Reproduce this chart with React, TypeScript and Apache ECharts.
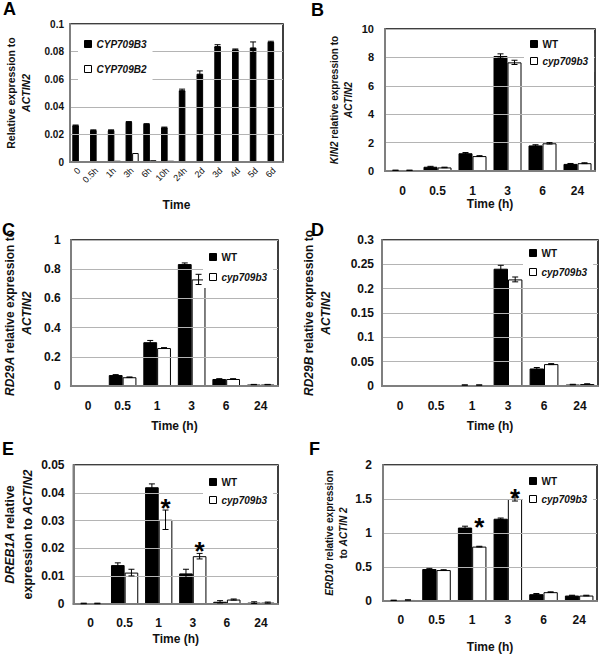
import React, { useEffect, useRef } from 'react';
import * as echarts from 'echarts';

// ---------- data ----------
const timeCatsA = ['0', '0.5h', '1h', '3h', '6h', '10h', '24h', '2d', '3d', '4d', '5d', '6d'];
const cyp709b3A = [0.0265, 0.023, 0.023, 0.029, 0.0275, 0.025, 0.052, 0.064, 0.084, 0.0815, 0.083, 0.087];
const cyp709b3AErr = [0.0003, 0.0003, 0.0003, 0.0003, 0.0003, 0.0003, 0.0008, 0.002, 0.001, 0.0004, 0.004, 0.0005];
const cyp709b2A = [0.0003, 0.0003, 0.0009, 0.0065, 0.0013, 0.0009, 0.0003, 0.0003, 0.0002, 0.0002, 0.0002, 0.0002];
const cyp709b2AErr = [0, 0, 0, 0, 0, 0, 0, 0, 0, 0, 0, 0];

const hourCats = ['0', '0.5', '1', '3', '6', '24'];

const kin2WT = [0.05, 0.3, 1.25, 8.1, 1.8, 0.5];
const kin2WTErr = [0.01, 0.03, 0.05, 0.15, 0.05, 0.03];
const kin2Mut = [0.05, 0.25, 1.05, 7.65, 1.95, 0.55];
const kin2MutErr = [0.01, 0.02, 0.03, 0.15, 0.05, 0.03];

const rd29aWT = [0.002, 0.075, 0.3, 0.835, 0.048, 0.01];
const rd29aWTErr = [0, 0.003, 0.012, 0.008, 0.002, 0.001];
const rd29aMut = [0.002, 0.06, 0.26, 0.73, 0.048, 0.01];
const rd29aMutErr = [0, 0.002, 0.003, 0.035, 0.002, 0.001];

const rd29bWT = [0.0005, 0.0005, 0.002, 0.241, 0.036, 0.003];
const rd29bWTErr = [0, 0, 0.0003, 0.007, 0.002, 0.0005];
const rd29bMut = [0.0005, 0.0005, 0.002, 0.219, 0.045, 0.004];
const rd29bMutErr = [0, 0, 0.0003, 0.005, 0.001, 0.0005];

const dreb1aWT = [0.0002, 0.014, 0.042, 0.011, 0.0008, 0.0005];
const dreb1aWTErr = [0.0001, 0.0008, 0.0012, 0.0015, 0.0004, 0.0003];
const dreb1aMut = [0.0002, 0.0113, 0.0303, 0.0172, 0.0016, 0.0005];
const dreb1aMutErr = [0.0001, 0.0012, 0.0035, 0.001, 0.0002, 0.0002];
const dreb1aStars = [[2, 0.0367], [3, 0.0212]];

const erd10WT = [0.01, 0.47, 1.08, 1.21, 0.1, 0.08];
const erd10WTErr = [0.002, 0.01, 0.02, 0.01, 0.01, 0.005];
const erd10Mut = [0.015, 0.455, 0.8, 1.5, 0.13, 0.08];
const erd10MutErr = [0.002, 0.005, 0.005, 0.03, 0.005, 0.005];
const erd10Stars = [[2, 1.18], [3, 1.61]];

const yTicksA = { min: 0, max: 0.1, interval: 0.02 };
const yTicksB = { min: 0, max: 10, interval: 2 };
const yTicksC = { min: 0, max: 1, interval: 0.2 };
const yTicksD = { min: 0, max: 0.3, interval: 0.05 };
const yTicksE = { min: 0, max: 0.05, interval: 0.01 };
const yTicksF = { min: 0, max: 2, interval: 0.5 };

const FONT = '"Liberation Sans", Arial, Helvetica, sans-serif';

type Panel = {
  letter: string;
  letterPos: [number, number];
  grid: { left: number; top: number; width: number; height: number };
  cats: string[];
  names: [string, string];
  nameItalic: [boolean, boolean];
  v1: number[]; e1: number[]; v2: number[]; e2: number[];
  ticks: { min: number; max: number; interval: number };
  yName: string; yNameSize: number; yNameGap: number;
  yLabelMargin: number; yLabelSize: number;
  xName: string; xNameGap: number; xLabelMargin: number; xLabelSize: number; xRotate: number;
  xLabelBold: boolean;
  bw: number;
  legend: { left: number; top: number; gap: number };
  stars?: number[][];
};

const panels: Panel[] = [
  {
    letter: 'A', letterPos: [3, 0],
    grid: { left: 70, top: 24, width: 213, height: 138 },
    cats: timeCatsA, names: ['CYP709B3', 'CYP709B2'], nameItalic: [true, true],
    v1: cyp709b3A, e1: cyp709b3AErr, v2: cyp709b2A, e2: cyp709b2AErr,
    ticks: yTicksA,
    yName: 'Relative expression to\n{i|ACTIN2}', yNameSize: 10.5, yNameGap: 36,
    yLabelMargin: 6, yLabelSize: 10,
    xName: 'Time', xNameGap: 37, xLabelMargin: 7, xLabelSize: 9, xRotate: 45, xLabelBold: false,
    bw: 0.37,
    legend: { left: 78, top: 33, gap: 13 },
  },
  {
    letter: 'B', letterPos: [311, 1],
    grid: { left: 385, top: 29, width: 210, height: 142 },
    cats: hourCats, names: ['WT', 'cyp709b3'], nameItalic: [false, true],
    v1: kin2WT, e1: kin2WTErr, v2: kin2Mut, e2: kin2MutErr,
    ticks: yTicksB,
    yName: '{i|KIN2} relative expression to\n{i|ACTIN2}', yNameSize: 10, yNameGap: 29,
    yLabelMargin: 11, yLabelSize: 11,
    xName: 'Time (h)', xNameGap: 25, xLabelMargin: 14, xLabelSize: 12, xRotate: 0, xLabelBold: true,
    bw: 0.4,
    legend: { left: 524, top: 33, gap: 5 },
  },
  {
    letter: 'C', letterPos: [2, 221],
    grid: { left: 70, top: 240, width: 208, height: 146 },
    cats: hourCats, names: ['WT', 'cyp709b3'], nameItalic: [false, true],
    v1: rd29aWT, e1: rd29aWTErr, v2: rd29aMut, e2: rd29aMutErr,
    ticks: yTicksC,
    yName: '{i|RD29A} relative expression to\n{i|ACTIN2}', yNameSize: 12, yNameGap: 35,
    yLabelMargin: 10, yLabelSize: 12,
    xName: 'Time (h)', xNameGap: 34, xLabelMargin: 14, xLabelSize: 12, xRotate: 0, xLabelBold: true,
    bw: 0.4,
    legend: { left: 203, top: 246, gap: 8 },
  },
  {
    letter: 'D', letterPos: [311, 221],
    grid: { left: 382, top: 240, width: 216, height: 146 },
    cats: hourCats, names: ['WT', 'cyp709b3'], nameItalic: [false, true],
    v1: rd29bWT, e1: rd29bWTErr, v2: rd29bMut, e2: rd29bMutErr,
    ticks: yTicksD,
    yName: '{i|RD29B} relative expression to\n{i|ACTIN2}', yNameSize: 12, yNameGap: 47,
    yLabelMargin: 8, yLabelSize: 12,
    xName: 'Time (h)', xNameGap: 34, xLabelMargin: 14, xLabelSize: 12, xRotate: 0, xLabelBold: true,
    bw: 0.4,
    legend: { left: 523, top: 242, gap: 7 },
  },
  {
    letter: 'E', letterPos: [2, 440],
    grid: { left: 69, top: 465, width: 209, height: 139 },
    cats: hourCats, names: ['WT', 'cyp709b3'], nameItalic: [false, true],
    v1: dreb1aWT, e1: dreb1aWTErr, v2: dreb1aMut, e2: dreb1aMutErr,
    ticks: yTicksE,
    yName: '{i|DREB1A} relative\nexpression to {i|ACTIN2}', yNameSize: 12.5, yNameGap: 33,
    yLabelMargin: 9, yLabelSize: 12,
    xName: 'Time (h)', xNameGap: 29, xLabelMargin: 13, xLabelSize: 12, xRotate: 0, xLabelBold: true,
    bw: 0.4,
    legend: { left: 203, top: 471, gap: 6 },
    stars: dreb1aStars,
  },
  {
    letter: 'F', letterPos: [309, 440],
    grid: { left: 383, top: 465, width: 214, height: 139 },
    cats: hourCats, names: ['WT', 'cyp709b3'], nameItalic: [false, true],
    v1: erd10WT, e1: erd10WTErr, v2: erd10Mut, e2: erd10MutErr,
    ticks: yTicksF,
    yName: '{i|ERD10} relative expression\nto {i|ACTIN 2}', yNameSize: 10, yNameGap: 32,
    yLabelMargin: 11, yLabelSize: 12,
    xName: 'Time (h)', xNameGap: 40, xLabelMargin: 13, xLabelSize: 12, xRotate: 0, xLabelBold: true,
    bw: 0.4,
    legend: { left: 523, top: 470, gap: 6 },
    stars: erd10Stars,
  },
];

function errorSeries(idx: number, vals: number[], errs: number[], off: number) {
  return {
    type: 'custom',
    name: 'err' + idx + '_' + off,
    xAxisIndex: idx,
    yAxisIndex: idx,
    z: 5,
    silent: true,
    data: vals.map((v, i) => [i, v, errs[i]]),
    renderItem: (params: any, api: any) => {
      const x = api.value(0);
      const v = api.value(1);
      const e = api.value(2);
      if (!(e > 0)) return null;
      const band = api.size([1, 0])[0];
      const c = api.coord([x, v]);
      const cx = c[0] + off * band;
      const yt = api.coord([x, v + e])[1];
      const yb = api.coord([x, Math.max(0, v - e)])[1];
      const cap = 3;
      const st = { stroke: '#000', lineWidth: 1 };
      return {
        type: 'group',
        children: [
          { type: 'line', shape: { x1: cx, y1: yt, x2: cx, y2: yb }, style: st },
          { type: 'line', shape: { x1: cx - cap, y1: yt, x2: cx + cap, y2: yt }, style: st },
          { type: 'line', shape: { x1: cx - cap, y1: yb, x2: cx + cap, y2: yb }, style: st },
        ],
      };
    },
  };
}

function starSeries(idx: number, stars: number[][], off: number) {
  return {
    type: 'custom',
    name: 'stars' + idx,
    xAxisIndex: idx,
    yAxisIndex: idx,
    z: 6,
    silent: true,
    data: stars,
    renderItem: (params: any, api: any) => {
      const band = api.size([1, 0])[0];
      const c = api.coord([api.value(0), api.value(1)]);
      return {
        type: 'text',
        x: c[0] + off * band,
        y: c[1] + 6,
        style: {
          text: '*',
          fontSize: 26,
          fontWeight: 'bold',
          fontFamily: FONT,
          fill: '#000',
          align: 'center',
          verticalAlign: 'middle',
        },
      };
    },
  };
}

function buildOption() {
  const grid: any[] = [];
  const xAxis: any[] = [];
  const yAxis: any[] = [];
  const series: any[] = [];
  const legend: any[] = [];
  const graphic: any[] = [];

  panels.forEach((p, idx) => {
    grid.push({
      ...p.grid,
      show: true,
      borderColor: '#000',
      borderWidth: 1.5,
      backgroundColor: 'transparent',
      containLabel: false,
    });
    xAxis.push({
      type: 'category',
      gridIndex: idx,
      data: p.cats,
      z: 3,
      axisLine: { show: true, lineStyle: { color: '#7f7f7f', width: 2 } },
      axisTick: { show: false },
      axisLabel: {
        interval: 0,
        rotate: p.xRotate,
        margin: p.xLabelMargin,
        fontSize: p.xLabelSize,
        fontWeight: p.xLabelBold ? 'bold' : 'normal',
        fontFamily: FONT,
        color: '#111',
      },
      name: p.xName,
      nameLocation: 'middle',
      nameGap: p.xNameGap,
      nameTextStyle: { fontSize: 12, fontWeight: 'bold', fontFamily: FONT, color: '#111' },
    });
    yAxis.push({
      type: 'value',
      gridIndex: idx,
      min: p.ticks.min,
      max: p.ticks.max,
      interval: p.ticks.interval,
      z: 3,
      axisLine: { show: true, lineStyle: { color: '#7f7f7f', width: 2 } },
      axisTick: { show: false },
      splitLine: { show: true, lineStyle: { color: '#b4b4b4', width: 1 } },
      axisLabel: {
        margin: p.yLabelMargin,
        fontSize: p.yLabelSize,
        fontWeight: 'bold',
        fontFamily: FONT,
        color: '#111',
      },
      name: p.yName,
      nameLocation: 'middle',
      nameRotate: 90,
      nameGap: p.yNameGap,
      nameTextStyle: {
        fontSize: p.yNameSize,
        fontWeight: 'bold',
        fontFamily: FONT,
        color: '#111',
        lineHeight: p.yNameSize * 1.45,
        align: 'center',
        rich: {
          i: {
            fontSize: p.yNameSize,
            fontWeight: 'bold',
            fontStyle: 'italic',
            fontFamily: FONT,
            color: '#111',
            lineHeight: p.yNameSize * 1.45,
          },
        },
      },
    });
    const off = p.bw / 2;
    series.push({
      type: 'bar',
      name: p.names[0],
      xAxisIndex: idx,
      yAxisIndex: idx,
      data: p.v1,
      barWidth: p.bw * 100 + '%',
      barGap: '0%',
      itemStyle: { color: '#000', borderColor: '#000', borderWidth: 1 },
      silent: true,
    });
    series.push({
      type: 'bar',
      name: p.names[1],
      xAxisIndex: idx,
      yAxisIndex: idx,
      data: p.v2,
      barWidth: p.bw * 100 + '%',
      barGap: '0%',
      itemStyle: { color: '#fff', borderColor: '#000', borderWidth: 1 },
      silent: true,
    });
    series.push(errorSeries(idx, p.v1, p.e1, -off));
    series.push(errorSeries(idx, p.v2, p.e2, off));
    if (p.stars) series.push(starSeries(idx, p.stars, off));

    legend.push({
      orient: 'vertical',
      left: p.legend.left,
      top: p.legend.top,
      itemGap: p.legend.gap,
      itemWidth: 7,
      itemHeight: 7,
      icon: 'rect',
      padding: [5, 6],
      backgroundColor: '#fff',
      selectedMode: false,
      data: p.names.map((n, k) => ({
        name: n,
        textStyle: {
          fontStyle: p.nameItalic[k] ? 'italic' : 'normal',
          fontWeight: 'bold',
          fontSize: 10,
          fontFamily: FONT,
          color: '#111',
          lineHeight: 12,
        },
      })),
      textStyle: { fontSize: 10, fontWeight: 'bold', fontFamily: FONT, color: '#111' },
      itemStyle: { borderWidth: 1 },
    });

    graphic.push({
      type: 'text',
      left: p.letterPos[0],
      top: p.letterPos[1],
      style: {
        text: p.letter,
        fontSize: 18,
        fontWeight: 'bold',
        fontFamily: FONT,
        fill: '#000',
      },
    });
  });

  return {
    animation: false,
    backgroundColor: '#fff',
    textStyle: { fontFamily: FONT },
    grid,
    xAxis,
    yAxis,
    series,
    legend,
    graphic,
  };
}

export default function App() {
  const ref = useRef<HTMLDivElement>(null);
  useEffect(() => {
    if (!ref.current) return;
    const chart = echarts.init(ref.current, undefined, { renderer: 'svg' });
    chart.setOption(buildOption() as any);
    return () => chart.dispose();
  }, []);
  return (
    <div
      ref={ref}
      style={{ position: 'absolute', left: 0, top: 0, width: 600, height: 654, background: '#fff' }}
    />
  );
}
